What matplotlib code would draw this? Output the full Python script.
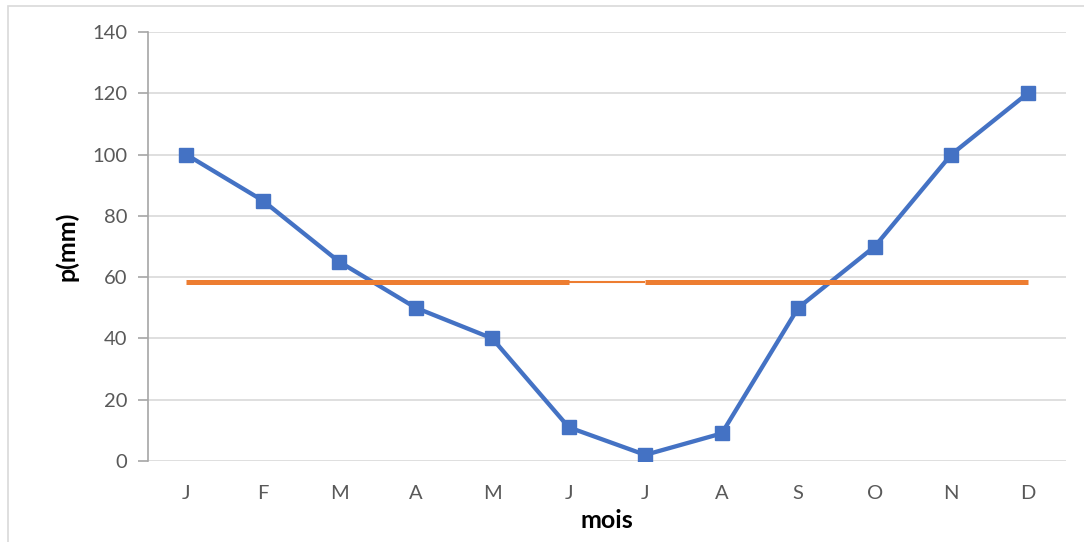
import numpy as np
import matplotlib.pyplot as plt
from matplotlib.patches import Rectangle

plt.rcParams['font.family'] = ['Lato', 'DejaVu Sans']

# Monthly precipitation (mm).
months = ['J', 'F', 'M', 'A', 'M', 'J', 'J', 'A', 'S', 'O', 'N', 'D']
precip = [100, 85, 65, 50, 40, 11, 2, 9, 50, 70, 100, 120]
mean_p = np.mean(precip)  # 58.5 mm, drawn as the orange line.

blue = '#4472C4'
orange = '#ED7D31'
grey_txt = '#595959'

fig = plt.figure(figsize=(10.84, 5.42), dpi=100)
# Light outer chart frame.
fig.patches.append(Rectangle((8/1084, -0.01), 1.2, 1 - 6/542 + 0.01,
                             transform=fig.transFigure, fill=False,
                             edgecolor='#d9d9d9', lw=1.2))

ax = fig.add_axes([148/1084, 1 - 461/542, (1066 - 148)/1084, (461 - 32)/542])

x = np.arange(len(months))
ax.plot(x, precip, color=blue, lw=3.1, marker='s', ms=9.5, zorder=3)

# Mean line: thick everywhere except the June-July segment.
mean_line = np.full(len(months), mean_p)
ax.plot(x[:6], mean_line[:6], color=orange, lw=3.6, solid_capstyle='butt', zorder=4)
ax.plot(x[5:7], mean_line[5:7], color=orange, lw=1.5, solid_capstyle='butt', zorder=4)
ax.plot(x[6:], mean_line[6:], color=orange, lw=3.6, solid_capstyle='butt', zorder=4)

ax.set_xlim(-0.5, len(months) - 0.5)
ax.set_ylim(0, 140)
ax.set_yticks(np.arange(0, 141, 20))
ax.set_xticks(x)
ax.set_xticklabels(months)

ax.grid(axis='y', color='#d9d9d9', lw=1.2)
ax.set_axisbelow(True)
for s in ['top', 'right', 'bottom']:
    ax.spines[s].set_visible(False)
ax.spines['left'].set_color('#a6a6a6')
ax.spines['left'].set_linewidth(1.2)

ax.tick_params(axis='y', length=7, width=1.2, color='#a6a6a6',
               labelsize=14.5, labelcolor=grey_txt, pad=8)
ax.tick_params(axis='x', length=0, labelsize=14.5, labelcolor=grey_txt, pad=17)

ax.set_xlabel('mois', fontsize=18, fontweight='bold', labelpad=5)
ax.set_ylabel('p(mm)', fontsize=18, fontweight='bold', labelpad=10)

fig.savefig('out.png', dpi=100)
